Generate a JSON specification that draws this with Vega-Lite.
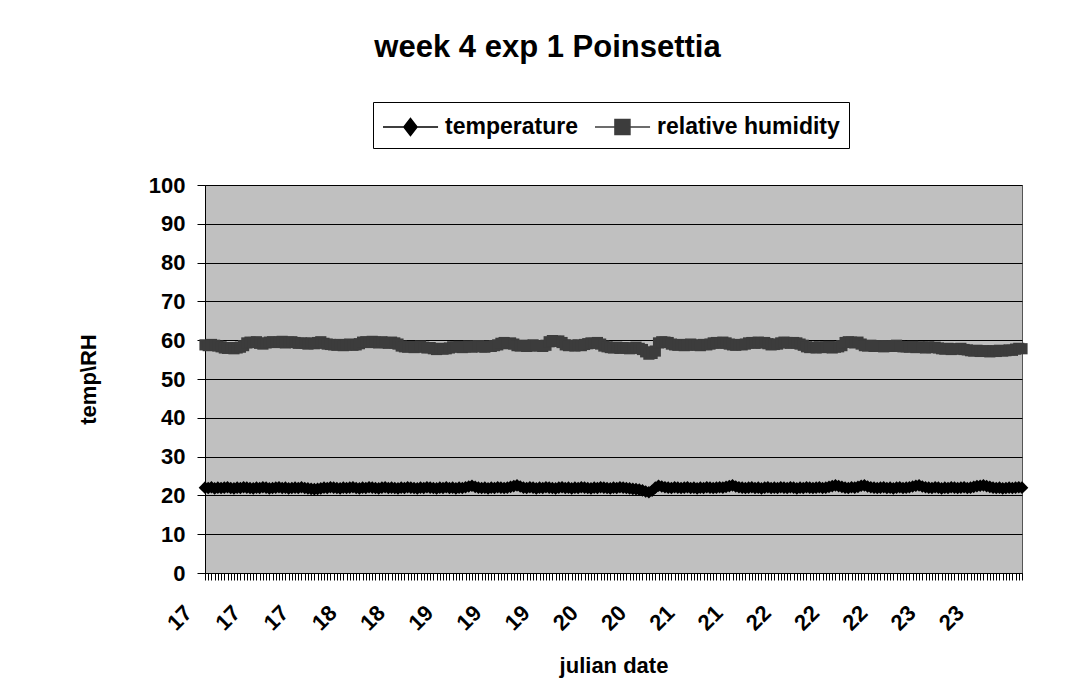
{
  "$schema": "https://vega.github.io/schema/vega-lite/v6.json",
  "autosize": "none",
  "width": 817,
  "height": 388,
  "padding": {"left": 205, "top": 185, "right": 57, "bottom": 115},
  "background": "white",
  "title": {"text": "week 4 exp 1 Poinsettia", "font": "Liberation Sans", "fontSize": 31, "fontWeight": "bold", "color": "black", "anchor": "middle", "frame": "group", "dx": -66, "offset": 38},
  "config": {
    "view": {"fill": "#c0c0c0", "stroke": "#555555", "strokeWidth": 1},
    "axis": {"labelFont": "Liberation Sans", "labelFontWeight": "bold", "labelFontSize": 22, "labelColor": "black", "titleFont": "Liberation Sans", "titleFontWeight": "bold", "titleFontSize": 22, "titleColor": "black", "domainColor": "black", "tickColor": "black", "gridColor": "black", "gridOpacity": 1, "gridWidth": 1}
  },
  "data": {"values": [
{"d":17,"t":22.0,"h":58.8},{"d":17.028,"t":21.9,"h":58.6},{"d":17.056,"t":22.1,"h":58.9},{"d":17.083,"t":21.8,"h":58.7},{"d":17.111,"t":22.0,"h":58.5},{"d":17.139,"t":21.9,"h":58.3},{"d":17.167,"t":22.0,"h":58.0},{"d":17.194,"t":22.1,"h":57.9},{"d":17.222,"t":21.9,"h":58.1},{"d":17.25,"t":21.8,"h":57.8},{"d":17.278,"t":22.0,"h":58.0},{"d":17.306,"t":21.9,"h":58.2},{"d":17.333,"t":22.1,"h":58.6},{"d":17.361,"t":22.0,"h":59.3},{"d":17.389,"t":21.9,"h":59.5},{"d":17.417,"t":21.8,"h":59.4},{"d":17.444,"t":22.0,"h":59.6},{"d":17.472,"t":21.9,"h":59.2},{"d":17.5,"t":22.1,"h":59.0},{"d":17.528,"t":22.0,"h":59.3},{"d":17.556,"t":21.8,"h":59.5},{"d":17.583,"t":21.9,"h":59.6},{"d":17.611,"t":22.0,"h":59.4},{"d":17.639,"t":22.1,"h":59.5},{"d":17.667,"t":21.9,"h":59.7},{"d":17.694,"t":22.0,"h":59.3},{"d":17.722,"t":21.8,"h":59.5},{"d":17.75,"t":21.9,"h":59.6},{"d":17.778,"t":22.0,"h":59.4},{"d":17.806,"t":21.9,"h":59.2},{"d":17.833,"t":22.1,"h":59.3},{"d":17.861,"t":21.9,"h":59.2},{"d":17.889,"t":21.8,"h":59.0},{"d":17.917,"t":21.7,"h":59.3},{"d":17.944,"t":21.6,"h":59.1},{"d":17.972,"t":21.7,"h":59.4},
{"d":18,"t":21.8,"h":59.6},{"d":18.028,"t":22.0,"h":59.2},{"d":18.056,"t":21.9,"h":59.0},{"d":18.083,"t":22.1,"h":58.9},{"d":18.111,"t":22.0,"h":58.8},{"d":18.139,"t":21.9,"h":58.7},{"d":18.167,"t":21.8,"h":58.9},{"d":18.194,"t":22.0,"h":58.6},{"d":18.222,"t":21.9,"h":58.8},{"d":18.25,"t":22.0,"h":59.0},{"d":18.278,"t":22.1,"h":58.7},{"d":18.306,"t":21.9,"h":58.8},{"d":18.333,"t":21.8,"h":59.1},{"d":18.361,"t":22.0,"h":59.5},{"d":18.389,"t":21.9,"h":59.6},{"d":18.417,"t":22.1,"h":59.4},{"d":18.444,"t":22.0,"h":59.7},{"d":18.472,"t":21.9,"h":59.5},{"d":18.5,"t":21.8,"h":59.3},{"d":18.528,"t":22.0,"h":59.6},{"d":18.556,"t":22.1,"h":59.4},{"d":18.583,"t":21.9,"h":59.2},{"d":18.611,"t":22.0,"h":59.5},{"d":18.639,"t":21.9,"h":59.3},{"d":18.667,"t":21.8,"h":59.0},{"d":18.694,"t":22.0,"h":58.5},{"d":18.722,"t":21.9,"h":58.3},{"d":18.75,"t":22.1,"h":58.2},{"d":18.778,"t":22.0,"h":58.4},{"d":18.806,"t":21.9,"h":58.1},{"d":18.833,"t":21.8,"h":58.3},{"d":18.861,"t":22.0,"h":58.5},{"d":18.889,"t":21.9,"h":58.2},{"d":18.917,"t":22.1,"h":58.0},{"d":18.944,"t":22.0,"h":58.1},{"d":18.972,"t":21.9,"h":57.8},
{"d":19,"t":21.8,"h":57.6},{"d":19.028,"t":22.0,"h":57.9},{"d":19.056,"t":21.9,"h":57.7},{"d":19.083,"t":22.1,"h":57.8},{"d":19.111,"t":21.9,"h":58.0},{"d":19.139,"t":22.0,"h":58.3},{"d":19.167,"t":21.8,"h":58.2},{"d":19.194,"t":22.0,"h":58.4},{"d":19.222,"t":21.9,"h":58.1},{"d":19.25,"t":22.1,"h":58.3},{"d":19.278,"t":22.3,"h":58.5},{"d":19.306,"t":22.5,"h":58.2},{"d":19.333,"t":22.2,"h":58.4},{"d":19.361,"t":22.0,"h":58.6},{"d":19.389,"t":21.9,"h":58.3},{"d":19.417,"t":22.0,"h":58.2},{"d":19.444,"t":21.8,"h":58.5},{"d":19.472,"t":22.0,"h":58.4},{"d":19.5,"t":21.9,"h":58.6},{"d":19.528,"t":22.1,"h":58.8},{"d":19.556,"t":22.0,"h":59.2},{"d":19.583,"t":21.9,"h":59.4},{"d":19.611,"t":22.0,"h":59.1},{"d":19.639,"t":22.2,"h":59.3},{"d":19.667,"t":22.4,"h":59.0},{"d":19.694,"t":22.6,"h":58.6},{"d":19.722,"t":22.3,"h":58.5},{"d":19.75,"t":22.0,"h":58.7},{"d":19.778,"t":21.9,"h":58.4},{"d":19.806,"t":22.1,"h":58.6},{"d":19.833,"t":22.0,"h":58.8},{"d":19.861,"t":21.8,"h":58.5},{"d":19.889,"t":22.0,"h":58.6},{"d":19.917,"t":21.9,"h":58.4},{"d":19.944,"t":22.1,"h":58.7},{"d":19.972,"t":22.0,"h":59.6},
{"d":20,"t":21.9,"h":59.9},{"d":20.028,"t":21.8,"h":59.7},{"d":20.056,"t":22.0,"h":59.8},{"d":20.083,"t":22.1,"h":59.4},{"d":20.111,"t":21.9,"h":58.8},{"d":20.139,"t":22.0,"h":58.6},{"d":20.167,"t":21.8,"h":58.7},{"d":20.194,"t":22.0,"h":58.5},{"d":20.222,"t":21.9,"h":58.8},{"d":20.25,"t":22.1,"h":58.6},{"d":20.278,"t":22.0,"h":58.9},{"d":20.306,"t":21.9,"h":59.1},{"d":20.333,"t":21.8,"h":59.3},{"d":20.361,"t":22.0,"h":59.2},{"d":20.389,"t":21.9,"h":59.4},{"d":20.417,"t":22.1,"h":59.0},{"d":20.444,"t":22.0,"h":58.5},{"d":20.472,"t":21.9,"h":58.3},{"d":20.5,"t":21.8,"h":58.1},{"d":20.528,"t":22.0,"h":58.0},{"d":20.556,"t":21.9,"h":58.2},{"d":20.583,"t":22.1,"h":57.9},{"d":20.611,"t":22.0,"h":58.1},{"d":20.639,"t":21.9,"h":58.0},{"d":20.667,"t":21.8,"h":57.8},{"d":20.694,"t":21.7,"h":58.0},{"d":20.722,"t":21.6,"h":58.2},{"d":20.75,"t":21.5,"h":57.9},{"d":20.778,"t":21.3,"h":57.6},{"d":20.806,"t":21.0,"h":57.0},{"d":20.833,"t":20.8,"h":56.4},{"d":20.861,"t":21.2,"h":56.6},{"d":20.889,"t":22.0,"h":57.2},{"d":20.917,"t":22.5,"h":59.3},{"d":20.944,"t":22.3,"h":59.6},{"d":20.972,"t":22.1,"h":59.5},
{"d":21,"t":22.0,"h":59.4},{"d":21.028,"t":21.9,"h":59.0},{"d":21.056,"t":22.1,"h":58.8},{"d":21.083,"t":22.0,"h":58.7},{"d":21.111,"t":21.9,"h":58.9},{"d":21.139,"t":22.0,"h":58.6},{"d":21.167,"t":22.1,"h":58.8},{"d":21.194,"t":21.9,"h":59.0},{"d":21.222,"t":22.0,"h":58.7},{"d":21.25,"t":21.8,"h":58.8},{"d":21.278,"t":22.0,"h":58.6},{"d":21.306,"t":21.9,"h":58.9},{"d":21.333,"t":22.1,"h":58.8},{"d":21.361,"t":22.0,"h":59.0},{"d":21.389,"t":21.9,"h":59.3},{"d":21.417,"t":22.0,"h":59.4},{"d":21.444,"t":22.1,"h":59.2},{"d":21.472,"t":22.0,"h":59.5},{"d":21.5,"t":22.2,"h":59.3},{"d":21.528,"t":22.4,"h":59.0},{"d":21.556,"t":22.6,"h":58.8},{"d":21.583,"t":22.3,"h":58.7},{"d":21.611,"t":22.1,"h":58.9},{"d":21.639,"t":22.0,"h":58.8},{"d":21.667,"t":21.9,"h":59.0},{"d":21.694,"t":22.0,"h":59.3},{"d":21.722,"t":22.1,"h":59.4},{"d":21.75,"t":21.9,"h":59.2},{"d":21.778,"t":22.0,"h":59.5},{"d":21.806,"t":21.8,"h":59.3},{"d":21.833,"t":22.0,"h":59.4},{"d":21.861,"t":22.1,"h":59.1},{"d":21.889,"t":21.9,"h":58.8},{"d":21.917,"t":22.0,"h":58.9},{"d":21.944,"t":21.9,"h":59.0},{"d":21.972,"t":22.1,"h":59.3},
{"d":22,"t":22.0,"h":59.5},{"d":22.028,"t":21.9,"h":59.4},{"d":22.056,"t":22.1,"h":59.2},{"d":22.083,"t":22.0,"h":59.4},{"d":22.111,"t":21.8,"h":59.3},{"d":22.139,"t":22.0,"h":59.0},{"d":22.167,"t":21.9,"h":58.7},{"d":22.194,"t":22.1,"h":58.3},{"d":22.222,"t":22.0,"h":58.1},{"d":22.25,"t":21.9,"h":58.2},{"d":22.278,"t":22.0,"h":58.0},{"d":22.306,"t":22.1,"h":58.3},{"d":22.333,"t":21.9,"h":58.1},{"d":22.361,"t":22.0,"h":58.2},{"d":22.389,"t":22.2,"h":58.4},{"d":22.417,"t":22.4,"h":58.0},{"d":22.444,"t":22.6,"h":58.2},{"d":22.472,"t":22.4,"h":58.3},{"d":22.5,"t":22.2,"h":58.6},{"d":22.528,"t":22.0,"h":59.4},{"d":22.556,"t":21.9,"h":59.6},{"d":22.583,"t":22.1,"h":59.5},{"d":22.611,"t":22.0,"h":59.3},{"d":22.639,"t":22.2,"h":59.5},{"d":22.667,"t":22.5,"h":59.0},{"d":22.694,"t":22.6,"h":58.6},{"d":22.722,"t":22.3,"h":58.5},{"d":22.75,"t":22.1,"h":58.7},{"d":22.778,"t":22.0,"h":58.4},{"d":22.806,"t":21.9,"h":58.6},{"d":22.833,"t":22.0,"h":58.5},{"d":22.861,"t":22.1,"h":58.3},{"d":22.889,"t":21.9,"h":58.6},{"d":22.917,"t":22.0,"h":58.4},{"d":22.944,"t":21.8,"h":58.5},{"d":22.972,"t":22.0,"h":58.7},
{"d":23,"t":22.1,"h":58.4},{"d":23.028,"t":21.9,"h":58.3},{"d":23.056,"t":22.0,"h":58.3},{"d":23.083,"t":22.1,"h":58.2},{"d":23.111,"t":22.3,"h":58.4},{"d":23.139,"t":22.5,"h":58.1},{"d":23.167,"t":22.6,"h":58.3},{"d":23.194,"t":22.3,"h":58.2},{"d":23.222,"t":22.1,"h":58.0},{"d":23.25,"t":22.0,"h":58.3},{"d":23.278,"t":21.9,"h":58.1},{"d":23.306,"t":22.1,"h":58.2},{"d":23.333,"t":22.0,"h":58.0},{"d":23.361,"t":21.8,"h":57.8},{"d":23.389,"t":22.0,"h":57.7},{"d":23.417,"t":21.9,"h":57.9},{"d":23.444,"t":22.1,"h":57.6},{"d":23.472,"t":22.0,"h":57.8},{"d":23.5,"t":21.9,"h":57.7},{"d":23.528,"t":22.0,"h":57.9},{"d":23.556,"t":22.1,"h":57.6},{"d":23.583,"t":21.9,"h":57.5},{"d":23.611,"t":22.0,"h":57.3},{"d":23.639,"t":22.2,"h":57.2},{"d":23.667,"t":22.4,"h":57.4},{"d":23.694,"t":22.5,"h":57.1},{"d":23.722,"t":22.6,"h":57.3},{"d":23.75,"t":22.4,"h":57.2},{"d":23.778,"t":22.2,"h":57.0},{"d":23.806,"t":22.0,"h":57.3},{"d":23.833,"t":21.9,"h":57.1},{"d":23.861,"t":22.0,"h":57.4},{"d":23.889,"t":21.8,"h":57.2},{"d":23.917,"t":21.9,"h":57.3},{"d":23.944,"t":22.0,"h":57.5},{"d":23.972,"t":21.9,"h":57.4},
{"d":24,"t":22.0,"h":57.7},{"d":24.028,"t":22.1,"h":57.9},{"d":24.056,"t":22.0,"h":57.8}
  ]},
  "transform": [{"fold": ["t", "h"], "as": ["k", "v"]}],
  "encoding": {
    "x": {"field": "d", "type": "ordinal", "scale": {"type": "point", "padding": 0},
      "axis": {"title": "julian date", "titlePadding": 21, "labelAngle": -45, "labelAlign": "right", "labelBaseline": "middle", "labelOffset": -17, "labelPadding": 29, "labelOverlap": false, "tickSize": 7, "grid": false,
        "labelExpr": "indexof([17,17.417,17.833,18.25,18.667,19.083,19.5,19.917,20.333,20.75,21.167,21.583,22,22.417,22.833,23.25,23.667], datum.value) >= 0 ? '' + floor(datum.value) : ''"}},
    "y": {"field": "v", "type": "quantitative", "scale": {"domain": [0, 100], "nice": false, "zero": true},
      "axis": {"title": "temp\\RH", "values": [0,10,20,30,40,50,60,70,80,90,100], "labelOverlap": false, "tickSize": 8, "labelPadding": 12, "titlePadding": 48, "grid": true}},
    "color": {"field": "k", "type": "nominal",
      "scale": {"domain": ["t", "h"], "range": ["#000000", "#3c3c3c"]},
      "legend": {"title": null, "orient": "none", "legendX": 168, "legendY": -83, "direction": "horizontal",
        "labelExpr": "datum.value === 't' ? 'temperature' : 'relative humidity'",
        "strokeColor": "black", "fillColor": "white", "padding": 9, "symbolSize": 900, "symbolStrokeWidth": 1.5,
        "labelFont": "Liberation Sans", "labelFontWeight": "bold", "labelFontSize": 23, "labelColor": "black", "labelOffset": 31, "labelLimit": 400, "columnPadding": 14,
        "encode": {"symbols": {"update": {
          "shape": {"signal": "datum.value === 't' ? 'M-1,0H2.67M0.83,-0.57L1.27,0L0.83,0.57L0.39,0Z' : 'M-1,0H2.67M0.33,-0.5H1.33V0.5H0.33Z'"},
          "fill": {"signal": "datum.value === 't' ? '#000000' : '#3c3c3c'"},
          "stroke": {"signal": "datum.value === 't' ? '#000000' : '#555555'"},
          "strokeWidth": {"value": 1.5},
          "size": {"value": 900},
          "opacity": {"value": 1},
          "fillOpacity": {"value": 1}
        }}}}}
  },
  "layer": [
    {"mark": {"type": "line", "strokeWidth": 1.5}},
    {"transform": [{"filter": "datum.k === 't'"}],
     "mark": {"type": "point", "filled": true, "opacity": 1, "strokeWidth": 0, "shape": "diamond", "size": 160}},
    {"transform": [{"filter": "datum.k === 'h'"}],
     "mark": {"type": "point", "filled": true, "opacity": 1, "strokeWidth": 0, "shape": "square", "size": 125}}
  ]
}
